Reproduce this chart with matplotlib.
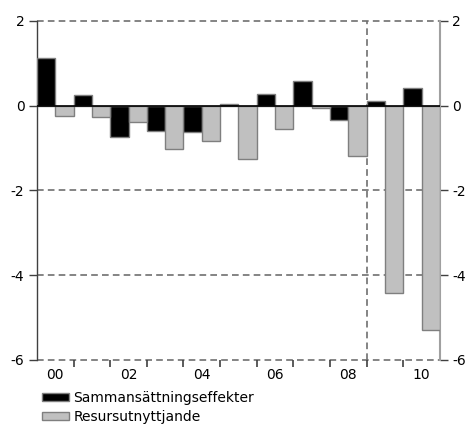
import matplotlib
matplotlib.use("Agg")
import matplotlib.pyplot as plt
import numpy as np
from matplotlib.patches import Patch

years = ["00", "01", "02", "03", "04", "05", "06", "07", "08", "09", "10"]
sammansattning = [1.12, 0.26, -0.74, -0.61, -0.63, 0.04, 0.28, 0.57, -0.35, 0.12, 0.42]
resursutnyttjande = [-0.25, -0.27, -0.39, -1.02, -0.84, -1.25, -0.54, -0.06, -1.18, -4.43, -5.29]
y_ticks = [2, 0, -2, -4, -6]
x_labels = ["00", "02", "04", "06", "08", "10"]

fig = plt.figure(figsize=(4.68, 4.25), dpi=100)
ax = fig.add_axes([0.079, 0.153, 0.861, 0.798])

n = len(years)
x = np.arange(n)
w = 0.5
edge = "#7f7f7f"
ax.bar(x - w / 2, sammansattning, width=w, color="black", edgecolor=edge, linewidth=1.0, zorder=3)
ax.bar(x + w / 2, resursutnyttjande, width=w, color="#c0c0c0", edgecolor=edge, linewidth=1.0, zorder=3)

ax.set_xlim(-0.5, n - 0.5)
ax.set_ylim(-6, 2)

# dashed horizontal grid, solid zero line
for v in y_ticks:
    if v == 0:
        ax.axhline(0, color="black", linewidth=1.2, zorder=4)
    else:
        ax.axhline(v, color="#707070", linewidth=1.2, linestyle=(0, (4, 2.5)), zorder=1, clip_on=False)
# forecast separator between 2008 and 2009
ax.axvline(8.5, color="#707070", linewidth=1.2, linestyle=(0, (4, 2.5)), zorder=2)

for s in ["top", "bottom"]:
    ax.spines[s].set_visible(False)
ax.spines["left"].set_color("#404040")
ax.spines["right"].set_color("#a0a0a0")
ax.spines["left"].set_linewidth(1.0)
ax.spines["right"].set_linewidth(1.5)

ax.set_yticks(y_ticks)
ax.set_yticklabels([str(v) for v in y_ticks])
ax.tick_params(axis="y", which="both", direction="out", length=6, width=1.0, color="#404040",
               labelsize=10, left=True, right=True, labelleft=True, labelright=True, pad=3)

# year boundaries as minor ticks, labels every other year at centres
ax.set_xticks(np.arange(0.5, n - 0.5, 1.0), minor=True)
ax.set_xticks(x[::2])
ax.set_xticklabels(x_labels)
ax.tick_params(axis="x", which="major", length=0, labelsize=10, pad=6)
ax.tick_params(axis="x", which="minor", direction="out", length=5, width=1.2, color="#404040")

handles = [Patch(facecolor="black", edgecolor=edge, label="Sammansättningseffekter"),
           Patch(facecolor="#c0c0c0", edgecolor=edge, label="Resursutnyttjande")]
fig.legend(handles=handles, loc="upper left", bbox_to_anchor=(0.09, 0.08), frameon=False,
           fontsize=10, handlelength=1.95, handleheight=0.5, handletextpad=0.3,
           labelspacing=0.35, borderpad=0, borderaxespad=0)

fig.savefig("out.png", dpi=100)
